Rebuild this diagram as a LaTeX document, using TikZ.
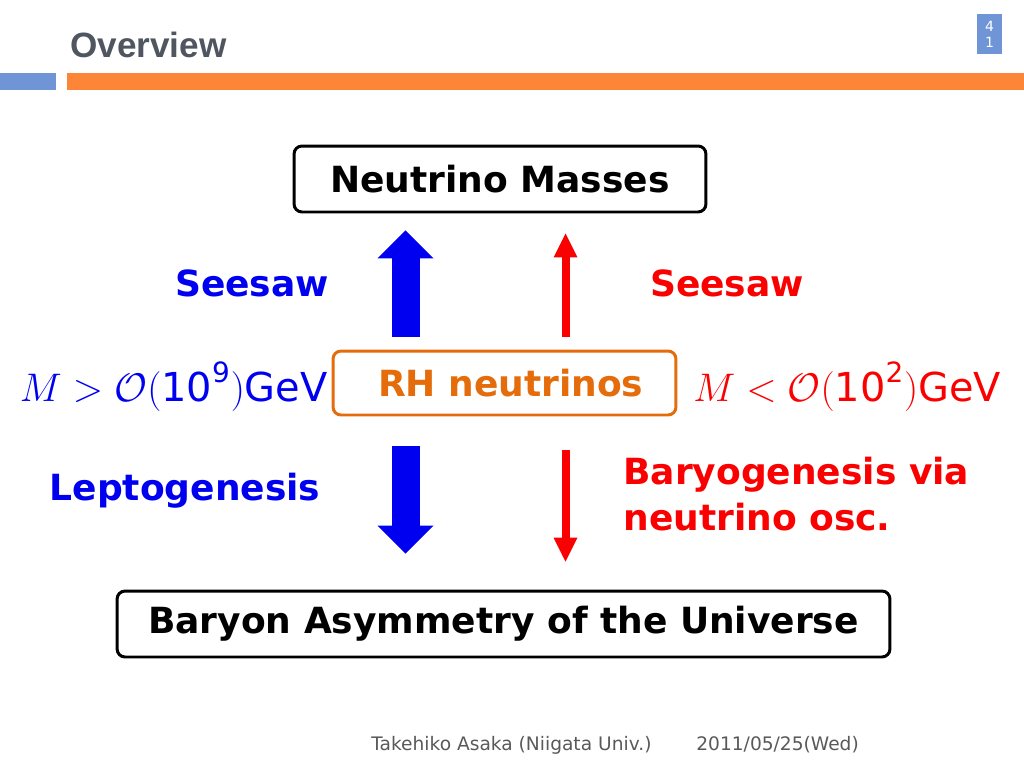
\RequirePackage{fix-cm}
\documentclass[tikz,border=0pt]{standalone}
\usepackage{amsmath}
\usepackage{fontspec}
\setmainfont{DejaVu Sans}
\newfontfamily\titlefont{Liberation Sans}
\usetikzlibrary{arrows.meta, positioning}
\definecolor{slideblue}{RGB}{0,0,240}
\definecolor{slidered}{RGB}{250,0,0}
\definecolor{rhorange}{RGB}{228,108,10}
\definecolor{barorange}{RGB}{253,133,55}
\definecolor{tabblue}{RGB}{111,149,214}
\definecolor{titlegray}{RGB}{80,86,96}
\definecolor{footgray}{RGB}{89,89,89}

\begin{document}
\begin{tikzpicture}[x=0.02cm, y=-0.02cm,
    bigfont/.style={font=\fontsize{20.5}{26.6}\selectfont\bfseries},
    mathfont/.style={font=\fontsize{22.7}{27}\selectfont},
    footfont/.style={footgray, anchor=west, font=\fontsize{10.6}{12}\selectfont, inner sep=0pt},
    box/.style={draw, line width=1.7pt, rounded corners=0.16cm, bigfont, inner sep=0pt},
    fatarrow/.style={slideblue, line width=0.56cm,
        -{Triangle[width=1.12cm, length=0.56cm, line width=0pt]}},
    thinarrow/.style={slidered, line width=0.16cm,
        -{Triangle[width=0.48cm, length=0.48cm, line width=0pt]}}]
    \useasboundingbox (0,0) rectangle (1024,768);

    % header
    \node[anchor=west, titlegray, font=\titlefont\fontsize{20}{24}\selectfont\bfseries] (title) at (64,45) {Overview};
    \fill[tabblue] (0,73) rectangle (56,90);
    \fill[barorange] (67,73) rectangle (1024,90);
    \fill[tabblue] (977,14) rectangle (1002,54);
    \node[white, font=\fontsize{8}{9}\selectfont, align=center] (pagenum) at (989.5,34) {4\\1};

    % boxes
    \node[box, minimum width=8.24cm, minimum height=1.32cm] (masses) at (500,179) {Neutrino Masses};
    \node[box, draw=rhorange, text=rhorange, minimum width=6.86cm, minimum height=1.28cm] (rh) at (504.5,383) {\hspace{0.25cm}RH neutrinos};
    \node[box, minimum width=15.46cm, minimum height=1.32cm] (bau) at (503.5,624) {Baryon Asymmetry of the Universe};

    % arrows
    \coordinate (bx) at (405.5,0);
    \coordinate (rx) at (565.5,0);
    \draw[fatarrow, shorten <=0.26cm, shorten >=0.34cm] (rh.north -| bx) -- (masses.south -| bx);
    \draw[thinarrow, shorten <=0.26cm, shorten >=0.40cm] (rh.north -| rx) -- (masses.south -| rx);
    \draw[fatarrow, shorten <=0.60cm, shorten >=0.72cm] (rh.south -| bx) -- (bau.north -| bx);
    \draw[thinarrow, shorten <=0.68cm, shorten >=0.56cm] (rh.south -| rx) -- (bau.north -| rx);

    % labels
    \node[bigfont, slideblue] (seesawL) at (252,283) {Seesaw};
    \node[bigfont, slidered] (seesawR) at (727,283) {Seesaw};
    \node[mathfont, slideblue, anchor=east, inner sep=0pt] (heavy) at (328,387) {$M>\mathcal{O}(\text{10}^{\text{9}})\text{GeV}$};
    \node[mathfont, slidered, anchor=west, inner sep=0pt] (light) at (693,387) {$M<\mathcal{O}(\text{10}^{\text{2}})\text{GeV}$};
    \node[bigfont, slideblue] (lepto) at (185,491) {Leptogenesis};
    \node[bigfont, slidered, anchor=west, align=left, inner sep=0pt] (baryo) at (623,494) {Baryogenesis via\\neutrino osc.};

    % footer
    \node[footfont] (author) at (371,745) {Takehiko Asaka (Niigata Univ.)};
    \node[footfont] (date) at (696,745) {2011/05/25(Wed)};
\end{tikzpicture}
\end{document}
